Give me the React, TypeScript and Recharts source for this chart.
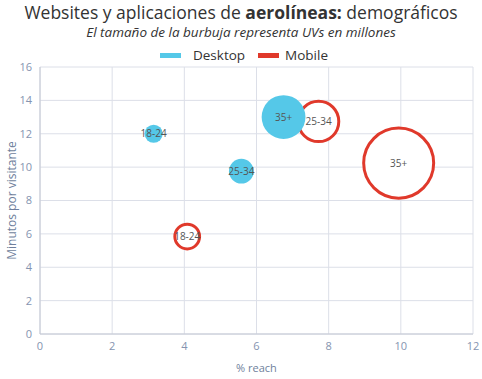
import { CartesianGrid, LabelList, Scatter, ScatterChart, XAxis, YAxis, ZAxis } from "recharts"

const ageGroups = ["18-24", "25-34", "35+"]
const desktopReach = [3.15, 5.58, 6.75]
const desktopMinutes = [12.0, 9.76, 13.0]
const desktopUVs = [0.8, 1.5, 4.7]
const mobileReach = [4.08, 7.72, 9.94]
const mobileMinutes = [5.84, 12.74, 10.24]
const mobileUVs = [1.5, 4.0, 12.0]
const xTicks = [0, 2, 4, 6, 8, 10, 12]
const yTicks = [0, 2, 4, 6, 8, 10, 12, 14, 16]

const BLUE = "#55c8e8"
const RED = "#e0392b"
const FONT = "'Open Sans', Lato, sans-serif"

const build = (xs: number[], ys: number[], zs: number[]) =>
  ageGroups.map((label, i) => ({ x: xs[i], y: ys[i], z: zs[i], label }))

const desktop = build(desktopReach, desktopMinutes, desktopUVs)
const mobile = build(mobileReach, mobileMinutes, mobileUVs)

export default function App() {
  return (
    <div style={{ position: "absolute", left: 0, top: 0, width: 482, height: 379, background: "#fff", fontFamily: FONT }}>
      <div style={{ position: "absolute", top: 0, width: 482, textAlign: "center", fontSize: 17.5, color: "#333" }}>
        Websites y aplicaciones de <b>aerolíneas:</b> demográficos
      </div>
      <div style={{ position: "absolute", top: 23, width: 482, textAlign: "center", fontSize: 13.5, fontStyle: "italic", color: "#333" }}>
        El tamaño de la burbuja representa UVs en millones
      </div>
      <div style={{ position: "absolute", top: 46, left: 3, width: 482, display: "flex", justifyContent: "center", alignItems: "center", fontSize: 13.5, color: "#333" }}>
        <span style={{ width: 21, height: 5, background: BLUE, marginRight: 12 }} />
        <span style={{ marginRight: 13 }}>Desktop</span>
        <span style={{ width: 21, height: 5, background: RED, marginRight: 6 }} />
        <span>Mobile</span>
      </div>
      <ScatterChart width={482} height={379} margin={{ top: 67, right: 9, bottom: 0, left: 0 }}>
        <CartesianGrid stroke="#dcdfe8" />
        <XAxis
          type="number"
          dataKey="x"
          domain={[0, 12]}
          ticks={xTicks}
          height={45}
          tickLine={false}
          axisLine={{ stroke: "#c4c8d4" }}
          tick={{ fill: "#8594b0", fontSize: 11 }}
          label={{ value: "% reach", position: "insideBottom", offset: 7, fill: "#6f7f9c", fontSize: 11 }}
        />
        <YAxis
          type="number"
          dataKey="y"
          domain={[0, 16]}
          ticks={yTicks}
          width={40}
          tickLine={false}
          axisLine={{ stroke: "#c4c8d4" }}
          tick={{ fill: "#8594b0", fontSize: 11 }}
          label={{ value: "Minutos por visitante", angle: -90, position: "insideLeft", offset: 12, style: { textAnchor: "middle" }, fill: "#6f7f9c", fontSize: 12 }}
        />
        <ZAxis type="number" dataKey="z" domain={[0, 12]} range={[0, 3850]} />
        <Scatter name="Mobile" data={mobile} fill="#fff" stroke={RED} strokeWidth={3} isAnimationActive={false}>
          <LabelList dataKey="label" position="center" fill="#555" fontSize={10} />
        </Scatter>
        <Scatter name="Desktop" data={desktop} fill={BLUE} isAnimationActive={false}>
          <LabelList dataKey="label" position="center" fill="#555" fontSize={10} />
        </Scatter>
      </ScatterChart>
    </div>
  )
}
